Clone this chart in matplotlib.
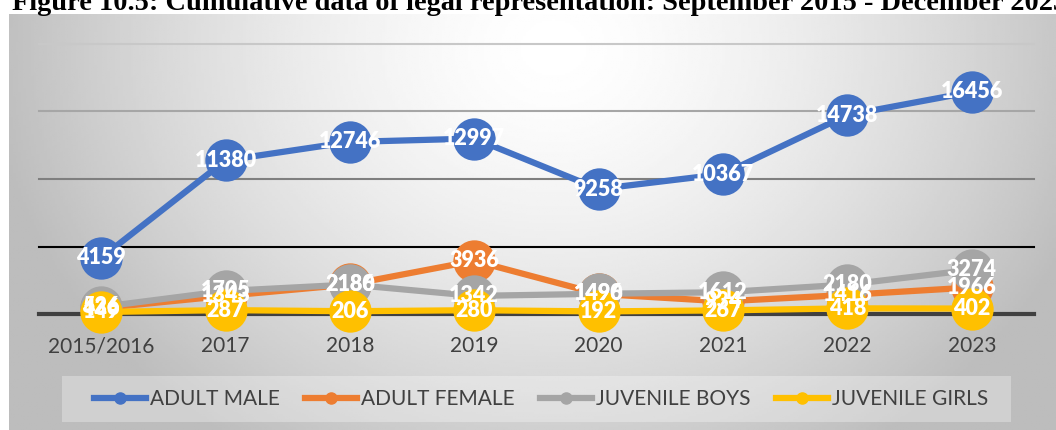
import numpy as np
import matplotlib.pyplot as plt
from matplotlib.lines import Line2D
from matplotlib.patches import Rectangle

# Datos del gráfico
years = ['2015/2016', '2017', '2018', '2019', '2020', '2021', '2022', '2023']
adult_male = [4159, 11380, 12746, 12997, 9258, 10367, 14738, 16456]
adult_female = [436, 1343, 2186, 3936, 1490, 934, 1416, 1966]
juvenile_boys = [526, 1705, 2180, 1342, 1496, 1612, 2180, 3274]
juvenile_girls = [149, 287, 206, 280, 192, 267, 418, 402]

series = [('ADULT MALE', adult_male, '#4472C4'),
          ('ADULT FEMALE', adult_female, '#ED7D31'),
          ('JUVENILE BOYS', juvenile_boys, '#A5A5A5'),
          ('JUVENILE GIRLS', juvenile_girls, '#FFC000')]

W, H = 1056, 430
fig = plt.figure(figsize=(W / 100, H / 100), dpi=100)

# Fondo con degradado radial
bg = fig.add_axes([9 / W, 0, 1 - 9 / W, (H - 14) / H])
gx, gy = np.meshgrid(np.linspace(0, 1, 400), np.linspace(0, 1, 200))
d = np.sqrt(((gx - 0.52) / 0.54) ** 2 + ((gy - 0.08) / 1.15) ** 2)
t = np.clip(d, 0, 1) ** 1.5
img = 1.0 * (1 - t) + 0.74 * t
bg.imshow(img, cmap='gray', vmin=0, vmax=1, aspect='auto', extent=[0, 1, 0, 1], origin='upper')
bg.axis('off')

# Título (cortado arriba, como en la imagen)
fig.text(12 / W, (H - 10) / H,
         'Figure 10.5: Cumulative data of legal representation: September 2015 - December 2023',
         fontsize=20.4, fontweight='bold', family='Liberation Serif', va='baseline', ha='left')

ax = fig.add_axes([39 / W, (H - 314) / H, 995 / W, 270 / H])
ax.patch.set_alpha(0)
ax.set_xlim(-0.5, 7.5)
ax.set_ylim(0, 20000)

grid_cols = {20000: '#c8c8c8', 15000: '#a6a6a6', 10000: '#7f7f7f', 5000: '#000000'}
for lvl, c in grid_cols.items():
    ax.axhline(lvl, color=c, lw=1.5, zorder=1, clip_on=False)
ax.axhline(0, color='#404040', lw=3, zorder=1, clip_on=False)

x = np.arange(len(years))
for name, vals, col in series:
    ax.plot(x, vals, color=col, lw=4.5, marker='o', markersize=30.5,
            markeredgewidth=0, zorder=3, clip_on=False, solid_capstyle='round')

for name, vals, col in series:
    for xi, v in zip(x, vals):
        ax.text(xi, v, str(v), ha='center', va='center', color='white',
                fontsize=15.5, fontweight='heavy', family='Lato', zorder=5)

for s in ax.spines.values():
    s.set_visible(False)
ax.set_yticks([])
ax.set_xticks(x)
ax.set_xticklabels(years, fontsize=15, family='Lato', color='#404040')
ax.tick_params(axis='x', length=0, pad=16)

# Leyenda
fig.patches.append(Rectangle((62 / W, (H - 422) / H), 949 / W, 46 / H,
                             transform=fig.transFigure, facecolor='white',
                             alpha=0.3, edgecolor='none'))
handles = [Line2D([0], [0], color=col, lw=4.5, marker='o', markersize=8)
           for name, vals, col in series]
fig.legend(handles, [s[0] for s in series], loc='center', ncol=4,
           bbox_to_anchor=(541 / W, (H - 399) / H), frameon=False,
           prop={'family': 'Lato', 'size': 15}, labelcolor='#404040',
           handlelength=2.5, handletextpad=0.2, columnspacing=1.2)

fig.savefig('out.png', dpi=100)
